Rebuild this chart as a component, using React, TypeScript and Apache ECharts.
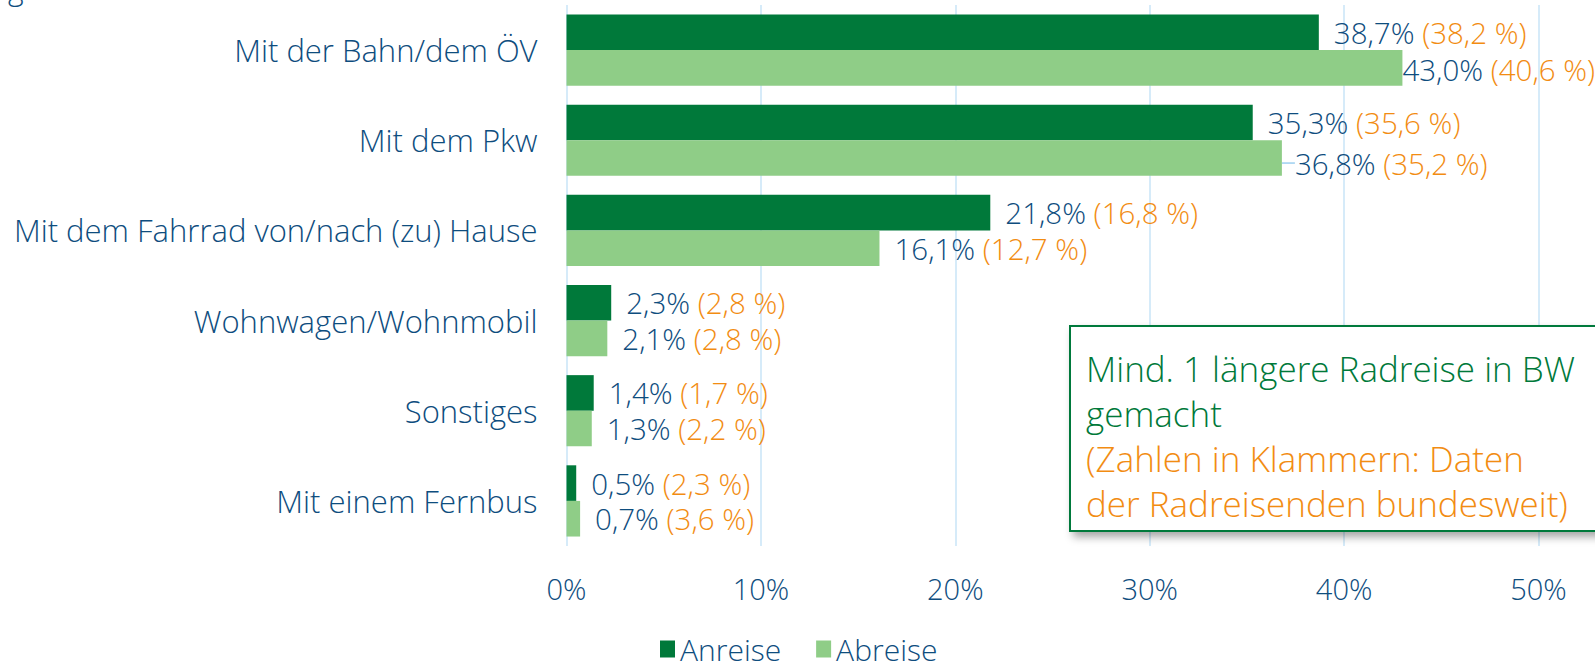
import React, { useEffect, useRef } from "react";
import * as echarts from "echarts";

const categories = [
  "Mit der Bahn/dem ÖV",
  "Mit dem Pkw",
  "Mit dem Fahrrad von/nach (zu) Hause",
  "Wohnwagen/Wohnmobil",
  "Sonstiges",
  "Mit einem Fernbus",
];
const anreise = [38.7, 35.3, 21.8, 2.3, 1.4, 0.5];
const anreiseBund = [38.2, 35.6, 16.8, 2.8, 1.7, 2.3];
const abreise = [43.0, 36.8, 16.1, 2.1, 1.3, 0.7];
const abreiseBund = [40.6, 35.2, 12.7, 2.8, 2.2, 3.6];
const xTicks = [0, 10, 20, 30, 40, 50];
const noteLines = [
  { text: "Mind. 1 längere Radreise in BW", kind: "green" },
  { text: "gemacht", kind: "green" },
  { text: "(Zahlen in Klammern: Daten", kind: "orange" },
  { text: "der Radreisenden bundesweit)", kind: "orange" },
];

const FONT = "'Open Sans', sans-serif";
const FW = 300;
const BLUE = "#0E4D7E";
const ORANGE = "#F28C12";
const DARK = "#00793A";
const LIGHT = "#8FCD87";
const GRID = "#C8E4F7";

const fmt = (v: number) => v.toFixed(1).replace(".", ",");

export default function App() {
  const ref = useRef<HTMLDivElement>(null);
  useEffect(() => {
    if (!ref.current) return;
    const chart = echarts.init(ref.current, null, { renderer: "svg" });
    const rich = {
      a: { color: BLUE, fontSize: 29.5, lineHeight: 32, fontFamily: FONT, fontWeight: FW },
      b: { color: ORANGE, fontSize: 29.5, lineHeight: 32, fontFamily: FONT, fontWeight: FW },
    };
    const mkData = (vals: number[], bund: number[], special: Record<number, any>, lines: number[]) =>
      vals.map((v, i) => ({
        value: v,
        label: {
          show: true,
          position: "right",
          distance: 15,
          formatter: `{a|${fmt(v)}%}{b| (${fmt(bund[i])} %)}`,
          rich,
          ...(special[i] || {}),
        },
        labelLine: lines.includes(i)
          ? { show: true, lineStyle: { color: "#9DCFF0", width: 1.5 } }
          : { show: false },
      }));
    chart.setOption({
      animation: false,
      textStyle: { fontFamily: FONT, fontWeight: FW },
      grid: { left: 566.5, right: 56.5, top: 5, bottom: 117, containLabel: false },
      xAxis: {
        type: "value",
        min: xTicks[0],
        max: xTicks[xTicks.length - 1],
        interval: 10,
        axisLabel: {
          formatter: "{value}%",
          color: BLUE,
          fontSize: 29,
          fontFamily: FONT,
          fontWeight: FW,
          margin: 28,
        },
        axisLine: { show: false },
        axisTick: { show: false },
        splitLine: { show: true, lineStyle: { color: GRID, width: 1.5 } },
      },
      yAxis: {
        type: "category",
        data: categories,
        inverse: true,
        axisLine: { show: false },
        axisTick: { show: false },
        axisLabel: { color: BLUE, fontSize: 31, fontFamily: FONT, fontWeight: FW, margin: 29 },
      },
      legend: {
        data: ["Anreise", "Abreise"],
        top: 634,
        left: 660,
        padding: 0,
        itemWidth: 15,
        itemHeight: 17,
        itemGap: 35,
        icon: "rect",
        textStyle: { color: BLUE, fontSize: 30, lineHeight: 30, fontFamily: FONT, fontWeight: FW },
      },
      series: [
        {
          name: "Anreise",
          type: "bar",
          barGap: "0%",
          barCategoryGap: "21%",
          itemStyle: { color: DARK },
          data: mkData(anreise, anreiseBund, {}, []),
        },
        {
          name: "Abreise",
          type: "bar",
          itemStyle: { color: LIGHT },
          labelLayout: (p: any) =>
            p.dataIndex === 0 ? { dy: 2 } : p.dataIndex === 1 ? { dy: 5 } : {},
          data: mkData(abreise, abreiseBund, { 0: { distance: 0 }, 1: { distance: 13 } }, [1]),
        },
      ],
      graphic: [
        {
          type: "text",
          left: 8,
          top: -27,
          style: { text: "g", fill: BLUE, font: `${FW} 30px ${FONT}` },
        },
        {
          type: "rect",
          shape: { x: 1070, y: 326, width: 600, height: 205 },
          style: {
            fill: "#fff",
            stroke: DARK,
            lineWidth: 2,
            shadowBlur: 8,
            shadowOffsetX: 4,
            shadowOffsetY: 5,
            shadowColor: "rgba(0,0,0,0.35)",
          },
          z: 10,
        },
        ...noteLines.map((l, i) => ({
          type: "text",
          x: 1086,
          y: 368 + i * 45.3,
          z: 11,
          style: {
            text: l.text,
            fill: l.kind === "green" ? DARK : ORANGE,
            font: `${FW} 35px ${FONT}`,
            textVerticalAlign: "middle",
            verticalAlign: "middle",
          },
        })),
      ],
    });
    return () => chart.dispose();
  }, []);
  return (
    <div
      ref={ref}
      style={{ position: "fixed", left: 0, top: 0, width: 1595, height: 663, background: "#fff" }}
    />
  );
}
